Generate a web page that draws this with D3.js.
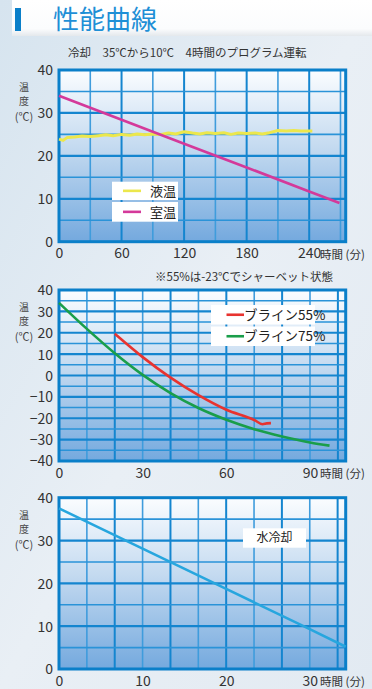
<html>
<head>
  <meta charset="utf-8">
  <style type="text/css">
    body { margin: 0; background: #e6edf4; }
    svg { display: block; }
    text { font-family: "Noto Sans CJK JP", "Noto Sans", sans-serif; }
  </style>
</head>
<body>
  <div id="viz"></div>
  <script src="https://cdnjs.cloudflare.com/ajax/libs/d3/7.8.5/d3.min.js"></script>
  <script>
  // chart 1 : 4 hour program (minutes / degC)
  const liquidMin = [0, 4, 8, 15, 22, 30, 38, 45, 52, 60, 68, 75, 82, 90, 98, 105, 112, 120, 128, 135, 142, 150, 158, 165, 172, 180, 188, 195, 202, 210, 218, 225, 232, 243];
  const liquidTemp = [23.9, 23.6, 24.3, 24.4, 24.6, 24.5, 24.7, 24.9, 24.7, 25.0, 24.8, 25.1, 24.9, 25.1, 25.0, 25.3, 25.1, 25.6, 25.3, 25.1, 25.4, 25.2, 25.4, 25.0, 25.3, 25.2, 25.3, 25.1, 25.4, 25.9, 25.8, 25.9, 25.8, 25.8];
  const roomMin = [0, 60, 120, 180, 240, 269];
  const roomTemp = [34, 28.4, 22.8, 17.3, 11.7, 9];

  // chart 2 : brine
  const brine55Min = [20, 30, 40, 50, 60, 70, 73, 74.5, 76];
  const brine55Temp = [19.5, 8.6, -1, -9.2, -16, -20.8, -22.8, -22.4, -22.3];
  const brine75Min = [0, 10, 20, 30, 40, 50, 60, 70, 80, 90, 97];
  const brine75Temp = [34, 21.8, 10.4, 0.3, -8.2, -15.2, -20.7, -25.1, -28.5, -31.3, -32.8];

  // chart 3 : water cooling
  const waterMin = [0, 10, 20, 30, 34.3];
  const waterTemp = [37.5, 28.1, 18.7, 9.3, 5.2];

  const xTicks1 = [0, 60, 120, 180, 240];
  const yTicks1 = [0, 10, 20, 30, 40];
  const xTicks2 = [0, 30, 60, 90];
  const yTicks2 = [-40, -30, -20, -10, 0, 10, 20, 30, 40];
  const xTicks3 = [0, 10, 20, 30];
  const yTicks3 = [0, 10, 20, 30, 40];

  const W = 372, H = 689;
  const svg = d3.select('#viz').append('svg')
    .attr('width', W)
    .attr('height', H);

  const defs = svg.append('defs');
  const bg = defs.append('linearGradient').attr('id', 'bg')
    .attr('x1', 0).attr('y1', 0).attr('x2', 1).attr('y2', 1);
  bg.append('stop').attr('offset', 0).attr('stop-color', '#d6e4ef');
  bg.append('stop').attr('offset', 0.5).attr('stop-color', '#e9eff5');
  bg.append('stop').attr('offset', 1).attr('stop-color', '#e2eaf2');

  const plotFill = defs.append('linearGradient').attr('id', 'plotFill')
    .attr('x1', 0).attr('y1', 0).attr('x2', 0).attr('y2', 1);
  plotFill.append('stop').attr('offset', 0).attr('stop-color', '#fbfdff');
  plotFill.append('stop').attr('offset', 0.45).attr('stop-color', '#c4daf0');
  plotFill.append('stop').attr('offset', 1).attr('stop-color', '#74a9de');

  const head = defs.append('linearGradient').attr('id', 'head')
    .attr('x1', 0).attr('y1', 0).attr('x2', 0).attr('y2', 1);
  head.append('stop').attr('offset', 0).attr('stop-color', '#ffffff');
  head.append('stop').attr('offset', 0.8).attr('stop-color', '#fbfcfd');
  head.append('stop').attr('offset', 1).attr('stop-color', '#e4e8ec');

  svg.append('rect').attr('width', W).attr('height', H).attr('fill', 'url(#bg)');

  // header
  svg.append('rect').attr('x', 12).attr('y', 0).attr('width', W - 12).attr('height', 36)
    .attr('fill', 'url(#head)');
  svg.append('rect').attr('x', 15).attr('y', 8).attr('width', 6).attr('height', 23)
    .attr('fill', '#0a7fc9');
  svg.append('text').attr('x', 53).attr('y', 29)
    .attr('font-size', 26).attr('fill', '#1e8fd6')
    .text('性能曲線');

  const left = 59, right = 345.7;

  function drawChart(cfg) {
    const x = d3.scaleLinear().domain(cfg.xDomain).range([left, right]);
    const y = d3.scaleLinear().domain(cfg.yDomain).range([cfg.bottom, cfg.top]);
    const g = svg.append('g');

    g.append('rect')
      .attr('x', left).attr('y', cfg.top)
      .attr('width', right - left).attr('height', cfg.bottom - cfg.top)
      .attr('fill', 'url(#plotFill)');

    // grid
    const vLines = d3.range(cfg.xStep, cfg.xDomain[1] - 0.01, cfg.xStep);
    g.selectAll('.vg').data(vLines).enter().append('line')
      .attr('x1', d => x(d)).attr('x2', d => x(d))
      .attr('y1', cfg.top).attr('y2', cfg.bottom)
      .attr('stroke', (d, i) => i % 2 === 0 ? '#3f9cdc' : '#1485cf')
      .attr('stroke-width', (d, i) => i % 2 === 0 ? 1.6 : 2);
    const hLines = d3.range(cfg.yDomain[0] + 5, cfg.yDomain[1], 5);
    g.selectAll('.hg').data(hLines).enter().append('line')
      .attr('x1', left).attr('x2', right)
      .attr('y1', d => y(d)).attr('y2', d => y(d))
      .attr('stroke', d => d % 10 === 0 ? '#1485cf' : '#2a93d8')
      .attr('stroke-width', d => d % 10 === 0 ? 2.2 : 1.6);

    g.append('rect')
      .attr('x', left).attr('y', cfg.top)
      .attr('width', right - left).attr('height', cfg.bottom - cfg.top)
      .attr('fill', 'none').attr('stroke', '#0a7fc9').attr('stroke-width', 3);

    // axes (labels only)
    const yAxis = g.append('g')
      .attr('transform', 'translate(' + (left - 6) + ',0)')
      .call(d3.axisLeft(y).tickValues(cfg.yTicks).tickSize(0).tickPadding(0));
    const xAxis = g.append('g')
      .attr('transform', 'translate(0,' + (cfg.bottom + 4) + ')')
      .call(d3.axisBottom(x).tickValues(cfg.xTicks).tickSize(0).tickPadding(0));
    [xAxis, yAxis].forEach(a => {
      a.select('.domain').remove();
      a.selectAll('text')
        .attr('font-size', 14)
        .attr('fill', '#333')
        .attr('font-family', '"Noto Sans", sans-serif');
    });
    yAxis.selectAll('text').attr('dy', '0.35em');
    xAxis.selectAll('text').attr('dy', '0.9em');

    g.append('text').attr('x', 320).attr('y', cfg.bottom + 17)
      .attr('font-size', 11.5).attr('fill', '#333')
      .text('時間 (分)');

    // y axis title
    const yt = g.append('g').attr('fill', '#444').attr('text-anchor', 'middle');
    yt.append('text').attr('x', 24).attr('y', cfg.top + 21).attr('font-size', 10).text('温');
    yt.append('text').attr('x', 24).attr('y', cfg.top + 35).attr('font-size', 10).text('度');
    yt.append('text').attr('x', 24).attr('y', cfg.top + 51).attr('font-size', 11).text('(℃)');

    cfg.series.forEach(s => {
      const pts = s.xs.map((v, i) => [v, s.ys[i]]);
      g.append('path')
        .datum(pts)
        .attr('fill', 'none')
        .attr('stroke', s.color)
        .attr('stroke-width', s.width || 2.6)
        .attr('stroke-linejoin', 'round')
        .attr('d', d3.line().x(d => x(d[0])).y(d => y(d[1])).curve(s.curve || d3.curveLinear));
    });
    return g;
  }

  drawChart({
    top: 70, bottom: 241.7,
    xDomain: [0, 275], yDomain: [0, 40], xStep: 30,
    xTicks: xTicks1, yTicks: yTicks1,
    series: [
      { xs: liquidMin, ys: liquidTemp, color: '#ece74c', width: 3 },
      { xs: roomMin, ys: roomTemp, color: '#d4399a' }
    ]
  });

  drawChart({
    top: 290, bottom: 461,
    xDomain: [0, 102.8], yDomain: [-40, 40], xStep: 10,
    xTicks: xTicks2, yTicks: yTicks2,
    series: [
      { xs: brine55Min, ys: brine55Temp, color: '#e8332f', curve: d3.curveMonotoneX },
      { xs: brine75Min, ys: brine75Temp, color: '#1a9e4a', curve: d3.curveMonotoneX }
    ]
  });

  drawChart({
    top: 497.7, bottom: 669,
    xDomain: [0, 34.3], yDomain: [0, 40], xStep: 10 / 3,
    xTicks: xTicks3, yTicks: yTicks3,
    series: [
      { xs: waterMin, ys: waterTemp, color: '#27a6de' }
    ]
  });

  // captions
  svg.append('text').attr('x', 68).attr('y', 57)
    .attr('font-size', 11.5).attr('fill', '#333')
    .text('冷却　35℃から10℃　4時間のプログラム運転');
  svg.append('text').attr('x', 155).attr('y', 281)
    .attr('font-size', 11.5).attr('fill', '#333')
    .text('※55%は-23℃でシャーベット状態');

  // legends
  function legend(x0, x1, rows) {
    rows.forEach(r => {
      svg.append('rect').attr('x', x0).attr('y', r.y0).attr('width', x1 - x0).attr('height', r.y1 - r.y0)
        .attr('fill', '#fff');
      const cy = (r.y0 + r.y1) / 2;
      svg.append('line').attr('x1', r.lx0).attr('x2', r.lx1).attr('y1', cy).attr('y2', cy)
        .attr('stroke', r.color).attr('stroke-width', 2.6);
      svg.append('text').attr('x', r.tx).attr('y', cy).attr('dy', '0.36em')
        .attr('font-size', r.fs).attr('fill', '#222').text(r.label);
    });
  }
  legend(112, 178, [
    { y0: 181.7, y1: 200, lx0: 123, lx1: 141, tx: 150, fs: 13, color: '#ece74c', label: '液温' },
    { y0: 202, y1: 221.7, lx0: 123, lx1: 141, tx: 150, fs: 13, color: '#d4399a', label: '室温' }
  ]);
  legend(211, 315, [
    { y0: 305, y1: 324.5, lx0: 226.5, lx1: 244, tx: 244, fs: 13.5, color: '#e8332f', label: 'ブライン55%' },
    { y0: 326.5, y1: 346, lx0: 226.5, lx1: 244, tx: 244, fs: 13.5, color: '#1a9e4a', label: 'ブライン75%' }
  ]);

  svg.append('rect').attr('x', 243).attr('y', 528.3).attr('width', 63).attr('height', 19.4)
    .attr('fill', '#fff');
  svg.append('text').attr('x', 274.5).attr('y', 538).attr('dy', '0.36em')
    .attr('text-anchor', 'middle').attr('font-size', 12).attr('fill', '#222')
    .text('水冷却');
  </script>
</body>
</html>
